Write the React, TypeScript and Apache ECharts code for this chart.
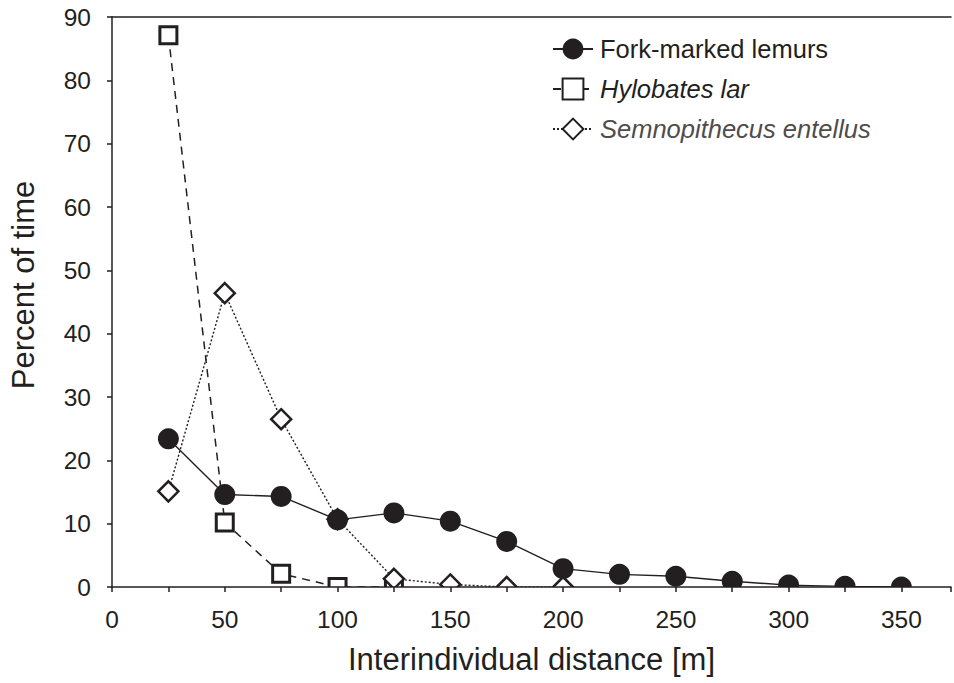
import React, { useEffect, useRef } from "react";
import * as echarts from "echarts";

// Interindividual distance classes [m]
const distances = [25, 50, 75, 100, 125, 150, 175, 200, 225, 250, 275, 300, 325, 350];

// Percent of time spent at each distance class
const forkMarkedLemurs = [23.4, 14.6, 14.3, 10.6, 11.7, 10.4, 7.2, 2.9, 2.0, 1.7, 0.9, 0.3, 0.1, 0.0];
const hylobatesLar = [87.1, 10.2, 2.1, 0.0, 0.0];
const semnopithecusEntellus = [15.1, 46.4, 26.5, 10.7, 1.3, 0.4, 0.0, 0.0];

const xTicks = { min: 0, max: 372, step: 25, labelStep: 50 };
const yTicks = { min: 0, max: 90, step: 10 };

const seriesNames = ["Fork-marked lemurs", "Hylobates lar", "Semnopithecus entellus"];

const INK = "#231f20";
const FONT = "'Liberation Sans', Arial, Helvetica, sans-serif";

// Plot area in pixels (runs off the right edge of the page)
const GRID = { left: 111, top: 17, right: 0, bottom: 96 };

const pairs = (values: number[]) => values.map((v, i) => [distances[i], v]);

export default function App() {
  const ref = useRef<HTMLDivElement>(null);

  useEffect(() => {
    if (!ref.current) return;
    const chart = echarts.init(ref.current, undefined, { renderer: "svg" });
    const axisBottom = 683 - GRID.bottom;

    const axisLineStyle = { color: INK, width: 1.5 };

    chart.setOption({
      animation: false,
      backgroundColor: "#ffffff",
      textStyle: { fontFamily: FONT, color: INK },
      grid: { ...GRID },
      legend: {
        orient: "vertical",
        left: 547,
        top: 31,
        itemWidth: 40,
        itemHeight: 26,
        itemGap: 14,
        data: seriesNames,
        selectedMode: false,
        formatter: (name: string) => {
          const key = name === seriesNames[0] ? "n" : name === seriesNames[1] ? "i" : "l";
          return `{${key}|${name}}`;
        },
        textStyle: {
          padding: [0, 0, 0, 2],
          rich: {
            n: { fontFamily: FONT, fontSize: 25.5, color: INK },
            i: { fontFamily: FONT, fontSize: 25.5, color: INK, fontStyle: "italic" },
            l: { fontFamily: FONT, fontSize: 25.5, color: "#504c4d", fontStyle: "italic" },
          },
        },
      },
      xAxis: [
        {
          type: "value",
          min: xTicks.min,
          max: xTicks.max,
          interval: xTicks.step,
          z: 20,
          name: "Interindividual distance [m]",
          nameLocation: "middle",
          nameGap: 57,
          nameTextStyle: { fontFamily: FONT, fontSize: 31, color: INK },
          axisLine: { onZero: false, lineStyle: axisLineStyle },
          axisTick: { show: true, length: 5, lineStyle: axisLineStyle },
          axisLabel: {
            margin: 20,
            fontFamily: FONT,
            fontSize: 24.5,
            color: INK,
            formatter: (v: number) => (v % xTicks.labelStep === 0 ? String(v) : ""),
          },
          splitLine: { show: false },
        },
        {
          // frame line along the top of the plot
          type: "value",
          position: "top",
          min: xTicks.min,
          max: xTicks.max,
          interval: xTicks.step,
          axisLine: { show: true, onZero: false, lineStyle: axisLineStyle },
          axisTick: { show: false },
          axisLabel: { show: false },
          splitLine: { show: false },
        },
      ],
      yAxis: {
        type: "value",
        min: yTicks.min,
        max: yTicks.max,
        interval: yTicks.step,
        z: 20,
        name: "Percent of time",
        nameLocation: "middle",
        nameGap: 73,
        nameTextStyle: { fontFamily: FONT, fontSize: 31, color: INK, padding: [0, 0, 0, 34] },
        axisLine: { show: true, lineStyle: axisLineStyle },
        axisTick: { show: true, length: 5, lineStyle: axisLineStyle },
        axisLabel: { margin: 21, fontFamily: FONT, fontSize: 24.5, color: INK },
        splitLine: { show: false },
      },
      // white band under the x axis so markers sitting on zero show only their upper half
      graphic: [
        {
          type: "rect",
          z: 10,
          silent: true,
          shape: { x: GRID.left + 1, y: axisBottom, width: 954, height: GRID.bottom },
          style: { fill: "#ffffff" },
        },
      ],
      series: [
        {
          name: seriesNames[0],
          type: "line",
          z: 4,
          data: pairs(forkMarkedLemurs),
          symbol: "circle",
          symbolSize: 21,
          itemStyle: { color: INK, borderColor: INK, borderWidth: 0 },
          lineStyle: { color: INK, width: 1.4, type: "solid" },
        },
        {
          name: seriesNames[1],
          type: "line",
          z: 2,
          data: pairs(hylobatesLar),
          symbol: "rect",
          symbolSize: 17,
          itemStyle: { color: "#ffffff", borderColor: INK, borderWidth: 3 },
          lineStyle: { color: INK, width: 1.5, type: [8, 6] },
        },
        {
          name: seriesNames[2],
          type: "line",
          z: 3,
          data: pairs(semnopithecusEntellus),
          symbol: "diamond",
          symbolSize: 20,
          itemStyle: { color: "#ffffff", borderColor: INK, borderWidth: 2.5 },
          lineStyle: { color: INK, width: 1.4, type: [2, 2] },
        },
      ],
    });

    return () => chart.dispose();
  }, []);

  return (
    <div
      ref={ref}
      style={{ position: "fixed", left: 0, top: 0, width: 954, height: 683, background: "#fff" }}
    />
  );
}
